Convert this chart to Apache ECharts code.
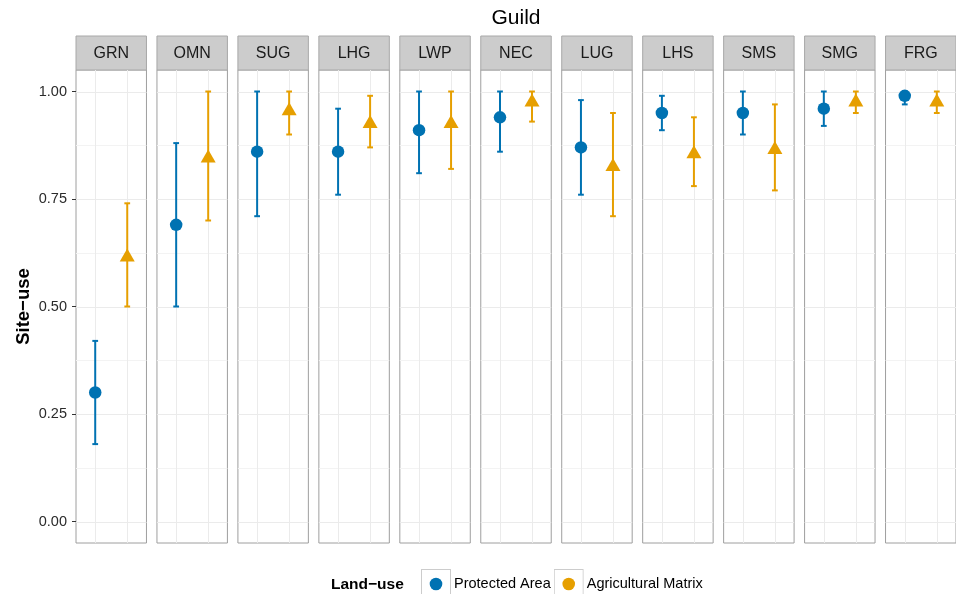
<!DOCTYPE html>
<html>
<head>
<meta charset="utf-8">
<script src="https://cdn.jsdelivr.net/npm/echarts@6/dist/echarts.min.js"></script>
<style>
  html, body { margin: 0; padding: 0; background: #fff; }
  #chart { width: 956px; height: 594px; }
</style>
</head>
<body>
<div id="chart"></div>
<script>
// Site-use estimates per guild, with lower / upper bounds
const guilds = ['GRN', 'OMN', 'SUG', 'LHG', 'LWP', 'NEC', 'LUG', 'LHS', 'SMS', 'SMG', 'FRG'];

const paMean = [0.30, 0.69, 0.86, 0.86, 0.91, 0.94, 0.87, 0.95, 0.95, 0.96, 0.99];
const paLow  = [0.18, 0.50, 0.71, 0.76, 0.81, 0.86, 0.76, 0.91, 0.90, 0.92, 0.97];
const paHigh = [0.42, 0.88, 1.00, 0.96, 1.00, 1.00, 0.98, 0.99, 1.00, 1.00, 1.00];

const amMean = [0.62, 0.85, 0.96, 0.93, 0.93, 0.98, 0.83, 0.86, 0.87, 0.98, 0.98];
const amLow  = [0.50, 0.70, 0.90, 0.87, 0.82, 0.93, 0.71, 0.78, 0.77, 0.95, 0.95];
const amHigh = [0.74, 1.00, 1.00, 0.99, 1.00, 1.00, 0.95, 0.94, 0.97, 1.00, 1.00];

const landUse = ['Protected Area', 'Agricultural Matrix'];
const yTicks = [0, 0.25, 0.5, 0.75, 1.0];
const yMinor = [0.125, 0.375, 0.625, 0.875];

const COL_PA = '#0072B2';
const COL_AM = '#E69F00';
const FONT = 'Liberation Sans';

// facet layout
const PANEL_LEFT = 76, PANEL_RIGHT = 956, GAP = 10.5;
const PANEL_TOP = 70, PANEL_H = 473;
const STRIP_TOP = 36, STRIP_H = 34;
const n = guilds.length;
const panelW = (PANEL_RIGHT - PANEL_LEFT - GAP * (n - 1)) / n;
const panelX = i => PANEL_LEFT + i * (panelW + GAP);

function keyIcon(color) {
  const svg = "<svg xmlns='http://www.w3.org/2000/svg' width='30' height='30'>" +
    "<rect x='0.5' y='0.5' width='29' height='29' fill='#ffffff' stroke='#cccccc' stroke-width='1'/>" +
    "<circle cx='15' cy='15' r='6.3' fill='" + color + "'/></svg>";
  return 'image://data:image/svg+xml;charset=utf-8,' + encodeURIComponent(svg);
}

const grids = [], xAxes = [], yAxes = [], series = [], graphics = [];

for (let i = 0; i < n; i++) {
  grids.push({
    left: panelX(i), top: PANEL_TOP, width: panelW, height: PANEL_H,
    show: true, backgroundColor: '#ffffff', borderColor: '#9E9E9E', borderWidth: 1
  });
  xAxes.push({
    gridIndex: i, type: 'value', min: 0.4, max: 2.6, show: false
  });
  const first = i === 0;
  yAxes.push({
    gridIndex: i, type: 'value', min: -0.05, max: 1.05,
    show: first,
    splitLine: { show: false },
    axisLine: { show: false },
    axisTick: { show: first, customValues: yTicks, length: 4, lineStyle: { color: '#333333' } },
    axisLabel: {
      show: first, customValues: yTicks, margin: 9,
      formatter: v => v.toFixed(2), color: '#2B2B2B', fontSize: 14.5,
      fontFamily: FONT
    },
    name: first ? 'Site\u2212use' : '',
    nameLocation: 'middle', nameGap: 43,
    nameTextStyle: { fontSize: 18.5, fontWeight: 'bold', color: '#000000', fontFamily: FONT }
  });

  // panel grid lines
  series.push({
    type: 'custom', xAxisIndex: i, yAxisIndex: i, silent: true, z: 1,
    data: [[1, 0]],
    renderItem: (params, api) => {
      const cs = params.coordSys;
      const kids = [];
      yMinor.forEach(v => {
        const y = Math.round(api.coord([1, v])[1]) + 0.5;
        kids.push({ type: 'line', shape: { x1: cs.x, y1: y, x2: cs.x + cs.width, y2: y },
          style: { stroke: '#F3F3F3', lineWidth: 1 } });
      });
      yTicks.forEach(v => {
        const y = Math.round(api.coord([1, v])[1]) + 0.5;
        kids.push({ type: 'line', shape: { x1: cs.x, y1: y, x2: cs.x + cs.width, y2: y },
          style: { stroke: '#EBEBEB', lineWidth: 1 } });
      });
      [1, 2].forEach(v => {
        const x = Math.round(api.coord([v, 0])[0]) + 0.5;
        kids.push({ type: 'line', shape: { x1: x, y1: cs.y, x2: x, y2: cs.y + cs.height },
          style: { stroke: '#EBEBEB', lineWidth: 1 } });
      });
      return { type: 'group', children: kids };
    }
  });

  // error bars
  const errData = [
    { value: [1, paLow[i], paHigh[i]], color: COL_PA },
    { value: [2, amLow[i], amHigh[i]], color: COL_AM }
  ];
  series.push({
    type: 'custom', xAxisIndex: i, yAxisIndex: i, silent: true, z: 2,
    data: errData.map(d => d.value),
    encode: { x: 0, y: [1, 2] },
    renderItem: (params, api) => {
      const x = api.value(0);
      const lo = api.coord([x, api.value(1)]);
      const hi = api.coord([x, api.value(2)]);
      const half = api.size([0.09, 0])[0];
      const c = errData[params.dataIndex].color;
      const st = { stroke: c, lineWidth: 2 };
      return {
        type: 'group',
        children: [
          { type: 'line', shape: { x1: lo[0], y1: lo[1], x2: hi[0], y2: hi[1] }, style: st },
          { type: 'line', shape: { x1: lo[0] - half, y1: lo[1], x2: lo[0] + half, y2: lo[1] }, style: st },
          { type: 'line', shape: { x1: hi[0] - half, y1: hi[1], x2: hi[0] + half, y2: hi[1] }, style: st }
        ]
      };
    }
  });

  // point estimates
  series.push({
    name: landUse[0], type: 'scatter', xAxisIndex: i, yAxisIndex: i, z: 3,
    symbol: 'circle', symbolSize: 12.5,
    itemStyle: { color: COL_PA, opacity: 1 },
    data: [[1, paMean[i]]]
  });
  series.push({
    name: landUse[1], type: 'scatter', xAxisIndex: i, yAxisIndex: i, z: 3,
    symbol: 'triangle', symbolSize: [15, 13],
    itemStyle: { color: COL_AM, opacity: 1 },
    data: [[2, amMean[i]]]
  });

  // facet strip
  graphics.push({
    type: 'rect', silent: true,
    shape: { x: panelX(i), y: STRIP_TOP, width: panelW, height: STRIP_H },
    style: { fill: '#CCCCCC', stroke: '#A8A8A8', lineWidth: 1 }
  });
  graphics.push({
    type: 'text', silent: true,
    x: panelX(i) + panelW / 2, y: STRIP_TOP + STRIP_H / 2 + 0.5,
    style: { text: guilds[i], fill: '#1A1A1A', fontSize: 16, fontFamily: FONT,
      align: 'center', verticalAlign: 'middle' }
  });
}

// legend title
graphics.push({
  type: 'text', silent: true, x: 331, y: 585,
  style: { text: 'Land\u2212use', fill: '#000000', fontSize: 15.5, fontWeight: 'bold',
    fontFamily: FONT, align: 'left', verticalAlign: 'middle' }
});

const option = {
  animation: false,
  backgroundColor: '#ffffff',
  title: {
    text: 'Guild',
    left: (PANEL_LEFT + PANEL_RIGHT) / 2, textAlign: 'center', top: 8, padding: 0,
    textStyle: { fontSize: 21, fontWeight: 'normal', color: '#000000', fontFamily: FONT }
  },
  legend: {
    left: 421, top: 569, orient: 'horizontal', padding: 0,
    itemWidth: 30, itemHeight: 30, itemGap: 3,
    selectedMode: false,
    textStyle: { fontSize: 14.5, color: '#000000', fontFamily: FONT, padding: [0, 0, 0, -2] },
    data: [
      { name: landUse[0], icon: keyIcon(COL_PA) },
      { name: landUse[1], icon: keyIcon(COL_AM) }
    ]
  },
  grid: grids,
  xAxis: xAxes,
  yAxis: yAxes,
  series: series,
  graphic: graphics
};

const chart = echarts.init(document.getElementById('chart'), null, { renderer: 'canvas' });
chart.setOption(option);
</script>
</body>
</html>
